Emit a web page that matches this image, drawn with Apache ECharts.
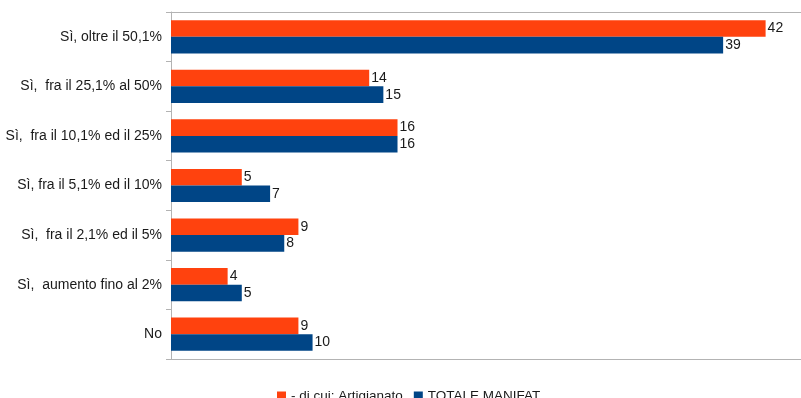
<!DOCTYPE html>
<html>
<head>
<meta charset="utf-8">
<script src="https://cdn.jsdelivr.net/npm/echarts@6/dist/echarts.min.js"></script>
<style>
  html, body { margin: 0; padding: 0; background: #ffffff; }
  #chart { width: 801px; height: 398px; }
</style>
</head>
<body>
<div id="chart"></div>
<script>
// Categories, listed top to bottom
const categories = [
  'Sì, oltre il 50,1%',
  'Sì,  fra il 25,1% al 50%',
  'Sì,  fra il 10,1% ed il 25%',
  'Sì, fra il 5,1% ed il 10%',
  'Sì,  fra il 2,1% ed il 5%',
  'Sì,  aumento fino al 2%',
  'No'
];
const seriesNames = ['- di cui: Artigianato', 'TOTALE MANIFAT.'];
const artigianato = [42, 14, 16, 5, 9, 4, 9];
const totaleManifat = [39, 15, 16, 7, 8, 5, 10];

const FONT = '"Liberation Sans Narrow", "Liberation Sans", Arial, sans-serif';
const AXIS_GRAY = '#b3b3b3';
const TEXT = '#1a1a1a';

const chart = echarts.init(document.getElementById('chart'), null, { renderer: 'canvas' });

const barLabel = {
  show: true,
  position: 'right',
  distance: 2,
  color: TEXT,
  fontFamily: FONT,
  fontSize: 14
};

chart.setOption({
  animation: false,
  backgroundColor: '#ffffff',
  grid: { left: 171, right: 0, top: 12, bottom: 39, containLabel: false },
  legend: {
    data: seriesNames,
    left: 272,
    top: 384,
    icon: 'rect',
    itemWidth: 9,
    itemHeight: 9,
    itemGap: 11,
    textStyle: { color: TEXT, fontFamily: FONT, fontSize: 13.5, padding: [0, 0, 0, 0] }
  },
  xAxis: [
    {
      type: 'value',
      position: 'bottom',
      min: 0,
      max: 44.5,
      axisLine: { show: true, lineStyle: { color: AXIS_GRAY, width: 1 } },
      axisTick: { show: false },
      axisLabel: { show: false },
      splitLine: { show: false }
    },
    {
      type: 'value',
      position: 'top',
      min: 0,
      max: 44.5,
      axisLine: { show: true, lineStyle: { color: AXIS_GRAY, width: 1 } },
      axisTick: { show: false },
      axisLabel: { show: false },
      splitLine: { show: false }
    }
  ],
  yAxis: {
    type: 'category',
    data: categories,
    inverse: true,
    axisLine: { show: true, lineStyle: { color: AXIS_GRAY, width: 1 } },
    axisTick: { show: true, length: 5, alignWithLabel: false, lineStyle: { color: AXIS_GRAY } },
    axisLabel: { color: TEXT, fontFamily: FONT, fontSize: 14, margin: 9 },
    splitLine: { show: false }
  },
  series: [
    {
      name: seriesNames[0],
      type: 'bar',
      data: artigianato,
      itemStyle: { color: '#ff420e' },
      barGap: '0%',
      barCategoryGap: '33%',
      label: barLabel
    },
    {
      name: seriesNames[1],
      type: 'bar',
      data: totaleManifat,
      itemStyle: { color: '#004586' },
      barGap: '0%',
      barCategoryGap: '33%',
      label: barLabel
    }
  ]
});
</script>
</body>
</html>
